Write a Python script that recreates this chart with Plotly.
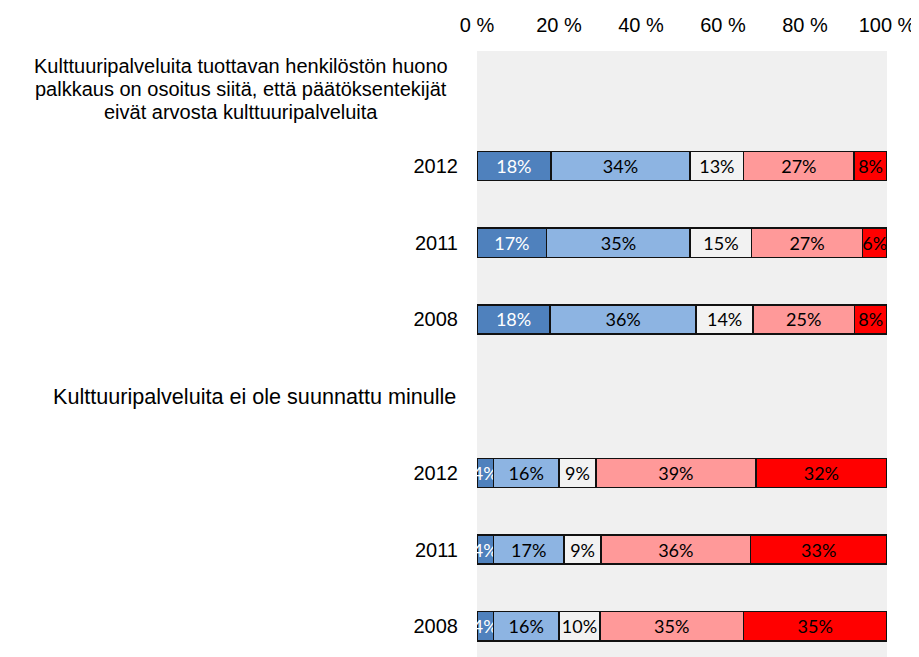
import plotly.graph_objects as go

# ---- data ----
row_keys = ["q1_title", "q1_2012", "q1_2011", "q1_2008",
            "q2_title", "q2_2012", "q2_2011", "q2_2008"]
row_labels = ["", "2012", "2011", "2008", "", "2012", "2011", "2008"]
q1_title_lines = ["Kulttuuripalveluita tuottavan henkilöstön huono",
                  "palkkaus on osoitus siitä, että päätöksentekijät",
                  "eivät arvosta kulttuuripalveluita"]
q2_title = "Kulttuuripalveluita ei ole suunnattu minulle"

s1 = [None, 18, 17, 18, None, 4, 4, 4]
s2 = [None, 34, 35, 36, None, 16, 17, 16]
s3 = [None, 13, 15, 14, None, 9, 9, 10]
s4 = [None, 27, 27, 25, None, 39, 36, 35]
s5 = [None, 8, 6, 8, None, 32, 33, 35]
series = [s1, s2, s3, s4, s5]
colors = ["#4F81BD", "#8DB4E2", "#F2F2F2", "#FF9999", "#FF0000"]
text_colors = ["#FFFFFF", "#000000", "#000000", "#000000", "#000000"]

tick_vals = [0, 20, 40, 60, 80, 100]
tick_text = ["0 %", "20 %", "40 %", "60 %", "80 %", "100 %"]

fig = go.Figure()
for vals, col, tcol in zip(series, colors, text_colors):
    fig.add_trace(go.Bar(
        y=row_keys, x=vals, orientation="h",
        marker=dict(color=col, line=dict(color="#111111", width=1.5)),
        text=[f"{v}%" if v is not None else "" for v in vals],
        textposition="inside", insidetextanchor="middle", textangle=0,
        constraintext="none", cliponaxis=False,
        textfont=dict(family="Lato", size=18, color=tcol),
        hoverinfo="skip", showlegend=False,
    ))

# page body adds an 8px offset, so the figure is sized 8px smaller
fig.update_layout(
    barmode="stack", barnorm="percent", bargap=0.62,
    width=911, height=649,
    margin=dict(l=469, r=32, t=43, b=0, autoexpand=False),
    paper_bgcolor="white", plot_bgcolor="#F0F0F0",
    uniformtext=dict(minsize=18, mode="show"),
    font=dict(family="Liberation Sans", color="#000000"),
)
fig.update_xaxes(side="top", range=[0, 100], tickvals=tick_vals, ticktext=tick_text,
                 showgrid=False, zeroline=False, showline=False, automargin=False,
                 ticks="outside", ticklen=10, tickcolor="rgba(0,0,0,0)",
                 tickfont=dict(size=20, family="Liberation Sans"))
fig.update_yaxes(type="category", categoryorder="array", categoryarray=row_keys,
                 range=[7.4, -0.5], tickvals=row_keys, ticktext=row_labels,
                 showgrid=False, zeroline=False, showline=False, automargin=False,
                 ticks="outside", ticklen=14, tickcolor="rgba(0,0,0,0)",
                 tickfont=dict(size=20, family="Liberation Sans"))

for i, line in enumerate(q1_title_lines):
    fig.add_annotation(text=line, xref="paper", yref="y", x=-0.5756, y=row_keys[0],
                       xanchor="center", yanchor="middle", showarrow=False,
                       yshift=(1 - i) * 23,
                       font=dict(size=20, family="Liberation Sans", color="#000000"))

fig.add_annotation(text=q2_title, xref="paper", yref="y", x=-19 / 410, y=row_keys[4],
                   xanchor="right", yanchor="middle", showarrow=False,
                   font=dict(size=21.6, family="Liberation Sans", color="#000000"))

fig.write_html("out.html")
